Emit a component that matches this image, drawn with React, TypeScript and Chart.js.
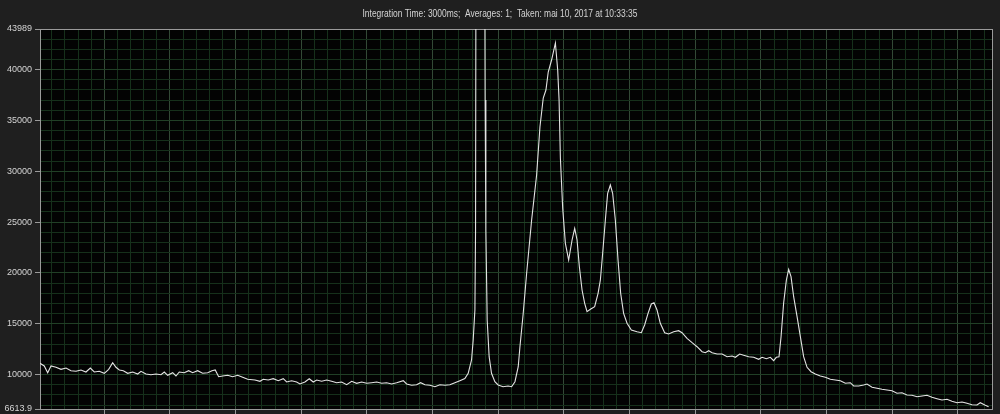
import React, { useEffect, useRef } from "react";
import { Chart, registerables } from "chart.js";

Chart.register(...registerables);

const TITLE = "Integration Time: 3000ms;  Averages: 1;  Taken: mai 10, 2017 at 10:33:35";

const Y_MIN = 6613.9;
const Y_MAX = 43989;
const Y_LABELED = [6613.9, 10000, 15000, 20000, 25000, 30000, 35000, 40000, 43989];
const Y_GRID_STEP = 1000;
const Y_MAJOR_STEP = 5000;

const X_MIN = 2;
const X_MAX = 1452;
const X_MINOR_STEP = 20;
const X_MAJOR_STEP = 100;

const wavelength = [
  2.0, 8.5, 13.7, 18.8, 26.4, 34.0, 41.6, 49.2, 56.8, 64.4, 72.0, 78.6, 84.7, 92.3, 99.9, 106.6,
  112.7, 117.7, 122.8, 128.9, 135.6, 143.2, 150.8, 155.8, 163.4, 171.0, 178.6, 186.3, 191.3, 196.5,
  204.1, 209.1, 214.1, 221.7, 228.4, 234.5, 242.1, 249.7, 257.4, 263.9, 268.9, 274.1, 280.2, 287.8,
  295.4, 303.1, 310.7, 318.3, 329.4, 337.0, 342.0, 349.6, 357.3, 364.9, 372.5, 377.7, 385.3, 392.9,
  397.9, 405.5, 412.1, 418.2, 423.4, 431.0, 438.6, 446.2, 453.8, 461.4, 469.1, 476.7, 484.3, 491.9,
  499.5, 507.1, 514.8, 522.4, 530.0, 537.6, 545.2, 555.3, 560.4, 568.0, 575.6, 581.7, 588.3, 595.9,
  603.5, 611.1, 618.7, 626.3, 633.9, 641.5, 649.1, 654.2, 659.3, 661.8, 664.4, 665.4, 666.2, 672.7,
  679.0, 680.0, 681.1, 683.1, 686.1, 689.7, 694.8, 699.8, 707.3, 714.9, 720.3, 725.4, 730.4, 733.0,
  738.0, 743.2, 750.8, 758.4, 763.5, 768.5, 772.6, 776.1, 781.2, 787.0, 790.5, 792.6, 794.6, 798.1,
  802.2, 807.2, 812.4, 816.4, 820.0, 823.5, 827.6, 831.6, 835.2, 840.3, 846.8, 852.0, 855.5, 859.0,
  863.1, 866.6, 870.7, 874.2, 878.3, 882.4, 886.4, 890.9, 896.1, 902.7, 911.3, 917.9, 922.9, 928.1,
  933.1, 937.2, 941.8, 946.8, 953.4, 959.5, 967.1, 974.7, 979.9, 987.5, 995.2, 1002.8, 1010.4, 1015.4,
  1020.5, 1025.7, 1033.3, 1040.9, 1048.5, 1056.1, 1061.1, 1067.7, 1073.7, 1081.4, 1089.0, 1096.6,
  1101.8, 1108.3, 1114.4, 1119.4, 1123.5, 1127.6, 1130.7, 1134.6, 1138.8, 1142.3, 1145.9, 1149.9,
  1155.1, 1160.1, 1165.1, 1170.3, 1176.4, 1182.9, 1190.5, 1198.2, 1205.8, 1213.4, 1221.0, 1228.6,
  1236.2, 1241.3, 1248.9, 1256.5, 1261.6, 1269.3, 1276.9, 1284.5, 1292.1, 1299.7, 1307.3, 1314.9,
  1322.5, 1330.2, 1337.8, 1345.4, 1353.0, 1360.6, 1368.2, 1375.8, 1383.4, 1391.0, 1398.7, 1406.3,
  1413.9, 1421.5, 1429.1, 1434.1, 1441.8, 1446.8,
];

const counts = [
  11109, 10843, 10184, 10843, 10715, 10518, 10646, 10381, 10322, 10450, 10253, 10646, 10253, 10322, 10125, 10518,
  11168, 10715, 10450, 10381, 10125, 10253, 10056, 10322, 10056, 9987, 10056, 9987, 10253, 9928,
  10184, 9859, 10253, 10184, 10381, 10184, 10381, 10125, 10184, 10381, 10450, 9791, 9859, 9928,
  9791, 9928, 9732, 9535, 9466, 9338, 9535, 9466, 9594, 9397, 9594, 9269, 9397, 9269,
  9073, 9269, 9594, 9269, 9466, 9338, 9466, 9338, 9200, 9269, 9004, 9338, 9141, 9269,
  9141, 9200, 9269, 9141, 9200, 9073, 9200, 9397, 9073, 8945, 9004, 9200, 9004, 8945,
  8807, 9004, 8945, 9004, 9200, 9400, 9610, 10125, 11433, 13400, 16351, 24219, 60000, 65000,
  60000, 37006, 24219, 15367, 11758, 10125, 9299, 8974, 8807, 8876, 8807, 9299, 10774, 12741,
  16026, 19961, 25203, 29629, 34380, 37202, 37989, 39760, 40940, 42612, 39956, 37006, 31301, 26384,
  22911, 21269, 23236, 24387, 23236, 20610, 18318, 17010, 16184, 16420, 16676, 17994, 19302, 21928,
  25203, 27829, 28645, 27829, 25203, 21269, 17994, 16026, 15043, 14384, 14217, 14118, 14876, 16026,
  16941, 17069, 16351, 15043, 14118, 13990, 14217, 14315, 14118, 13568, 13135, 12741, 12250, 12151,
  12348, 12151, 12023, 12023, 11758, 11827, 11699, 12023, 11895, 11758, 11699, 11502,
  11699, 11561, 11699, 11364, 11699, 11758, 13725, 17010, 19302, 20354, 19626, 17659,
  15692, 13725, 11758, 10715, 10282, 10056, 9859, 9732, 9535, 9466, 9397, 9141,
  9200, 8876, 8876, 8974, 9073, 8748, 8650, 8551, 8482, 8414, 8158, 8217,
  7991, 7961, 7823, 7892, 7961, 7764, 7627, 7499, 7568, 7371, 7233, 7302,
  7174, 7037, 7007, 7233, 6977, 6840,
];

const PAGE_BG = "#1f1f1f";
const PLOT_BG = "#030303";
const FRAME = "#9a9a9a";
const GRID_MINOR = "#16301b";
const GRID_MAJOR_X = "#334936";
const GRID_MAJOR_Y = "#213f26";
const TEXT = "#d4d4d4";
const LINE = "#e4e4e4";
const TRANSPARENT = "rgba(0,0,0,0)";

const framePlugin = {
  id: "frame",
  beforeDraw(chart: any) {
    const { ctx, chartArea: a, width, height } = chart;
    ctx.save();
    ctx.fillStyle = PAGE_BG;
    ctx.fillRect(0, 0, width, height);
    ctx.fillStyle = PLOT_BG;
    ctx.fillRect(a.left, a.top, a.right - a.left, a.bottom - a.top);
    ctx.font = '10px "Liberation Sans", Arial, sans-serif';
    ctx.fillStyle = TEXT;
    ctx.textAlign = "center";
    ctx.textBaseline = "middle";
    const w = ctx.measureText(TITLE).width;
    const target = 275;
    ctx.translate(width / 2, 14.5);
    ctx.scale(target / w, 1);
    ctx.fillText(TITLE, 0, 0);
    ctx.restore();
  },
  beforeDatasetsDraw(chart: any) {
    const { ctx, chartArea: a } = chart;
    ctx.save();
    ctx.strokeStyle = FRAME;
    ctx.lineWidth = 1;
    ctx.strokeRect(a.left + 0.5, a.top + 0.5, a.right - a.left, a.bottom - a.top);
    ctx.restore();
  },
};

export default function App() {
  const ref = useRef<HTMLCanvasElement | null>(null);

  useEffect(() => {
    if (!ref.current) return;
    const points = wavelength.map((x, i) => ({ x, y: counts[i] }));
    const chart = new Chart(ref.current, {
      type: "line",
      data: {
        datasets: [
          {
            data: points,
            borderColor: LINE,
            borderWidth: 1.1,
            pointRadius: 0,
            tension: 0,
            fill: false,
          },
        ],
      },
      options: {
        responsive: false,
        animation: false,
        devicePixelRatio: 1,
        events: [],
        layout: { padding: { top: 29, right: 8, bottom: 0, left: 0 } },
        plugins: {
          legend: { display: false },
          tooltip: { enabled: false },
          title: { display: false },
        },
        scales: {
          x: {
            type: "linear",
            min: X_MIN,
            max: X_MAX,
            afterBuildTicks: (scale: any) => {
              const t = [];
              for (let v = X_MINOR_STEP; v < X_MAX; v += X_MINOR_STEP) t.push({ value: v });
              scale.ticks = t;
            },
            afterFit: (scale: any) => {
              scale.height = 5;
              scale.paddingLeft = 0;
              scale.paddingRight = 0;
            },
            ticks: { display: false },
            border: { display: false },
            grid: {
              drawTicks: true,
              tickLength: 5,
              color: (c: any) =>
                c.tick && c.tick.value % X_MAJOR_STEP === 0 ? GRID_MAJOR_X : GRID_MINOR,
              tickColor: (c: any) =>
                c.tick && c.tick.value % X_MAJOR_STEP === 0 ? FRAME : TRANSPARENT,
            },
          },
          y: {
            type: "linear",
            min: Y_MIN,
            max: Y_MAX,
            afterBuildTicks: (scale: any) => {
              const t = [{ value: Y_MIN }];
              for (let v = Math.ceil(Y_MIN / Y_GRID_STEP) * Y_GRID_STEP; v < Y_MAX; v += Y_GRID_STEP)
                t.push({ value: v });
              t.push({ value: Y_MAX });
              scale.ticks = t;
            },
            afterFit: (scale: any) => {
              scale.width = 40;
              scale.paddingTop = 0;
              scale.paddingBottom = 0;
            },
            border: { display: false },
            ticks: {
              autoSkip: false,
              padding: 3,
              color: TEXT,
              font: { family: '"Liberation Sans", Arial, sans-serif', size: 9 },
              callback: (v: any) => (Y_LABELED.includes(Number(v)) ? String(v) : ""),
            },
            grid: {
              drawTicks: true,
              tickLength: 5,
              color: (c: any) => {
                const v = c.tick ? c.tick.value : 0;
                if (v === Y_MIN || v === Y_MAX) return TRANSPARENT;
                return v % Y_MAJOR_STEP === 0 ? GRID_MAJOR_Y : GRID_MINOR;
              },
              tickColor: (c: any) =>
                c.tick && Y_LABELED.includes(c.tick.value) ? FRAME : TRANSPARENT,
            },
          },
        },
      },
      plugins: [framePlugin],
    });
    return () => chart.destroy();
  }, []);

  return (
    <div
      style={{
        position: "fixed",
        left: 0,
        top: 0,
        width: 1000,
        height: 414,
        background: PAGE_BG,
      }}
    >
      <canvas ref={ref} width={1000} height={414} style={{ display: "block" }} />
    </div>
  );
}
